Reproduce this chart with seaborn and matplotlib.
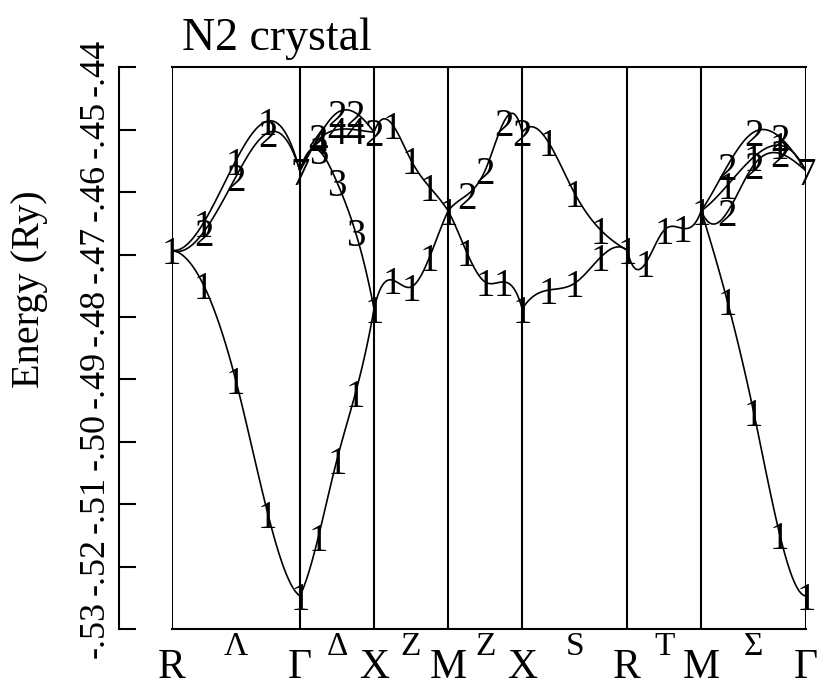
import numpy as np
import pandas as pd
import matplotlib
matplotlib.use("Agg")
import matplotlib.pyplot as plt
import seaborn as sns

# Simple-cubic Brillouin-zone path R-Γ-X-M-X-R-M-Γ
vertex_names = ["R", "Γ", "X", "M", "X", "R", "M", "Γ"]
line_names = ["Λ", "Δ", "Z", "Z", "S", "T", "Σ"]
segment_lengths = [np.sqrt(3) / 2, 0.5, 0.5, 0.5, np.sqrt(2) / 2, 0.5, np.sqrt(2) / 2]

# Band energies (Ry) at the start, 1/4, 1/2, 3/4 and end of each line,
# with the representation index printed at the three inner k-points.
lambda_E = [
    [-0.4693, -0.4749, -0.4901, -0.5115, -0.5247],
    [-0.4693, -0.4649, -0.4550, -0.4486, -0.4566],
    [-0.4693, -0.4664, -0.4576, -0.4505, -0.4566],
]
lambda_rep = [["1", "1", "1"], ["1", "1", "1"], ["2", "2", "2"]]

delta_E = [
    [-0.4566, -0.4512, -0.4473, -0.4473, -0.4504],
    [-0.4566, -0.4516, -0.4500, -0.4500, -0.4504],
    [-0.4566, -0.4533, -0.4584, -0.4664, -0.4787],
    [-0.5247, -0.5152, -0.5029, -0.4922, -0.4787],
]
delta_rep = [["2", "2", "2"], ["4", "4", "4"], ["3", "3", "3"], ["1", "1", "1"]]

z1_E = [
    [-0.4504, -0.4492, -0.4549, -0.4592, -0.4630],
    [-0.4787, -0.4741, -0.4752, -0.4704, -0.4630],
]
z1_rep = [["1", "1", "1"], ["1", "1", "1"]]

z2_E = [
    [-0.4630, -0.4605, -0.4565, -0.4488, -0.4504],
    [-0.4630, -0.4696, -0.4744, -0.4744, -0.4787],
]
z2_rep = [["2", "2", "2"], ["1", "1", "1"]]

s_E = [
    [-0.4504, -0.4520, -0.4602, -0.4661, -0.4693],
    [-0.4787, -0.4757, -0.4746, -0.4704, -0.4693],
]
s_rep = [["1", "1", "1"], ["1", "1", "1"]]

t_E = [
    [-0.4693, -0.4714, -0.4661, -0.4658, -0.4630],
]
t_rep = [["1", "1", "1"]]

sigma_E = [
    [-0.4630, -0.4558, -0.4504, -0.4512, -0.4566],
    [-0.4630, -0.4589, -0.4544, -0.4525, -0.4566],
    [-0.4630, -0.4632, -0.4557, -0.4538, -0.4566],
    [-0.4630, -0.4775, -0.4952, -0.5149, -0.5247],
]
sigma_rep = [["2", "2", "2"], ["1", "1", "1"], ["2", "2", "2"], ["1", "1", "1"]]

segment_E = [lambda_E, delta_E, z1_E, z2_E, s_E, t_E, sigma_E]
segment_rep = [lambda_rep, delta_rep, z1_rep, z2_rep, s_rep, t_rep, sigma_rep]

# Distinct levels and their labels at the high-symmetry points
vertex_E = [
    [-0.4693],
    [-0.5247, -0.4566],
    [-0.4504, -0.4787],
    [-0.4630],
    [-0.4504, -0.4787],
    [-0.4693],
    [-0.4630],
    [-0.4566, -0.5247],
]
vertex_rep = [["1"], ["1", "7"], ["2", "1"], ["1"], ["2", "1"], ["1"], ["1"], ["7", "1"]]

ytick_values = [-0.53, -0.52, -0.51, -0.50, -0.49, -0.48, -0.47, -0.46, -0.45, -0.44]
ytick_labels = ["-.53", "-.52", "-.51", "-.50", "-.49", "-.48", "-.47", "-.46", "-.45", "-.44"]


def smooth_curve(x, y, n=60):
    """Cubic spline (not-a-knot ends) through the points of one line."""
    x = np.asarray(x, float)
    y = np.asarray(y, float)
    m = len(x)
    h = np.diff(x)
    A = np.zeros((m, m))
    b = np.zeros(m)
    A[0, 0], A[0, 1], A[0, 2] = h[1], -(h[0] + h[1]), h[0]
    A[-1, -3], A[-1, -2], A[-1, -1] = h[-1], -(h[-2] + h[-1]), h[-2]
    for i in range(1, m - 1):
        A[i, i - 1] = h[i - 1]
        A[i, i] = 2 * (h[i - 1] + h[i])
        A[i, i + 1] = h[i]
        b[i] = 6 * ((y[i + 1] - y[i]) / h[i] - (y[i] - y[i - 1]) / h[i - 1])
    M = np.linalg.solve(A, b)
    xs = np.linspace(x[0], x[-1], n)
    idx = np.clip(np.searchsorted(x, xs) - 1, 0, m - 2)
    x0, x1 = x[idx], x[idx + 1]
    hh = x1 - x0
    ys = (M[idx] * (x1 - xs) ** 3 / (6 * hh) + M[idx + 1] * (xs - x0) ** 3 / (6 * hh)
          + (y[idx] / hh - M[idx] * hh / 6) * (x1 - xs)
          + (y[idx + 1] / hh - M[idx + 1] * hh / 6) * (xs - x0))
    return xs, ys


sns.set_theme(style="white")
plt.rcParams["font.family"] = ["Liberation Serif", "DejaVu Serif"]
plt.rcParams["axes.edgecolor"] = "black"

W, H = 817, 686
fig = plt.figure(figsize=(W / 100, H / 100), dpi=100)
x0_px, x1_px, y0_px, y1_px = 171.5, 806.0, 67.3, 629.0
ax = fig.add_axes([x0_px / W, 1 - y1_px / H, (x1_px - x0_px) / W, (y1_px - y0_px) / H])

starts = np.concatenate([[0.0], np.cumsum(segment_lengths)])

rows = []
cid = 0
for s, (bands, reps) in enumerate(zip(segment_E, segment_rep)):
    k_pts = starts[s] + np.array([0, 0.25, 0.5, 0.75, 1.0]) * segment_lengths[s]
    for energies, rep in zip(bands, reps):
        ks, es = smooth_curve(k_pts, energies)
        rows.append(pd.DataFrame({"k": ks, "E": es, "curve": cid}))
        cid += 1
        for kk, ee, lab in zip(k_pts[1:4], energies[1:4], rep):
            ax.text(kk, ee, lab, ha="center", va="center_baseline", fontsize=28, color="black")
curves = pd.concat(rows, ignore_index=True)

sns.lineplot(data=curves, x="k", y="E", units="curve", estimator=None, sort=False,
             color="black", linewidth=1.2, legend=False, ax=ax)

for kv, levels, reps in zip(starts, vertex_E, vertex_rep):
    for ee, lab in zip(levels, reps):
        ax.text(kv, ee, lab, ha="center", va="center_baseline", fontsize=28, color="black")

for kv in starts:
    ax.axvline(kv, color="black", linewidth=1.5)

ax.set_xlim(starts[0], starts[-1])
ax.set_ylim(-0.53, -0.44)
ax.set_xlabel("")
ax.set_ylabel("")
ax.set_xticks([])

# y axis drawn apart from the frame, ticks pointing inwards
ax.spines["right"].set_visible(False)
for side in ("top", "bottom", "left"):
    ax.spines[side].set_linewidth(1.5)
    ax.spines[side].set_color("black")
ax.spines["left"].set_position(("outward", 53 * 0.72))
ax.set_yticks(ytick_values)
ax.set_yticklabels(ytick_labels, rotation=90, va="center")
ax.tick_params(axis="y", direction="in", length=17 * 0.72, width=1.5, labelsize=26,
               pad=5, colors="black", left=True)

# Symmetry-point and symmetry-line names below the frame
xform = ax.get_xaxis_transform()
span = y1_px - y0_px
for kv, name in zip(starts, vertex_names):
    ax.text(kv, -(678 - y1_px) / span, name, transform=xform, ha="center",
            va="baseline", fontsize=30, color="black")
mids = (starts[:-1] + starts[1:]) / 2
for kv, name in zip(mids, line_names):
    ax.text(kv, -(655 - y1_px) / span, name, transform=xform, ha="center",
            va="baseline", fontsize=24, color="black")

fig.text(30 / W, 1 - 289 / H, "Energy (Ry)", rotation=90, ha="center", va="center",
         fontsize=29, color="black")
fig.text(182 / W, 1 - 50 / H, "N2 crystal", ha="left", va="baseline", fontsize=33,
         color="black")

fig.savefig("out.png", dpi=100, facecolor="white")
